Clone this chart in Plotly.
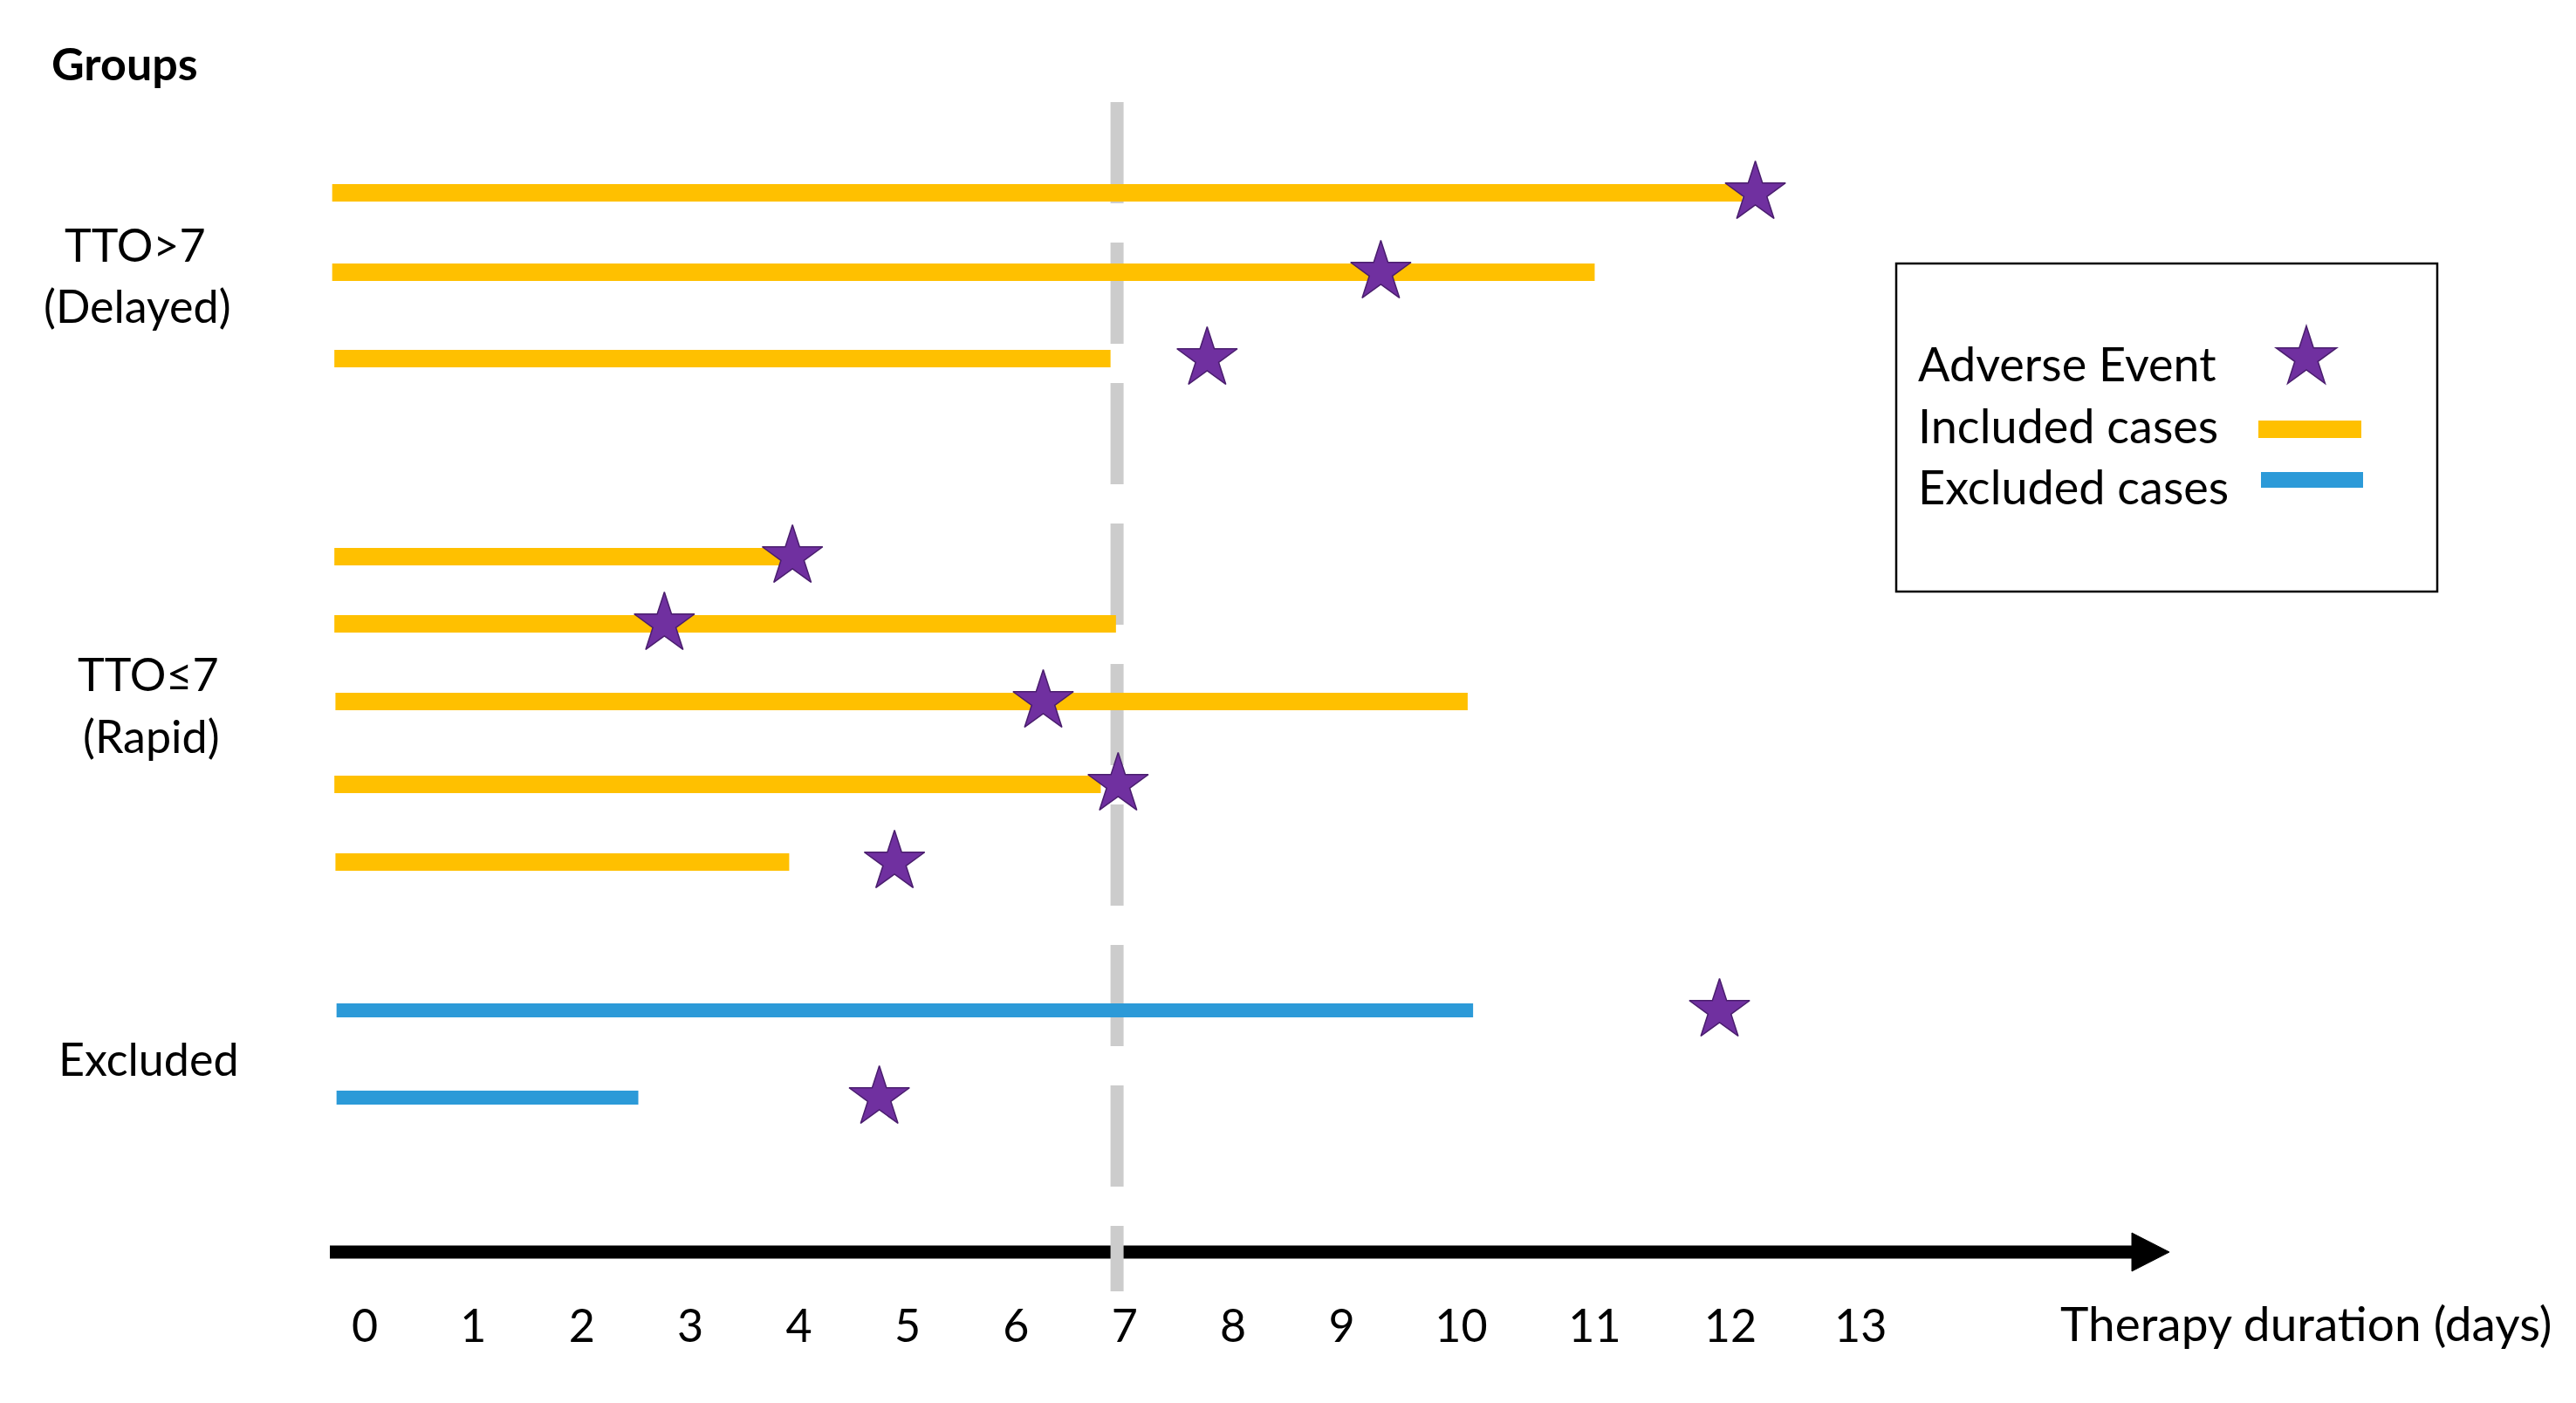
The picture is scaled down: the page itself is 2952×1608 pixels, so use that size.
import math
import plotly.graph_objects as go

# 데이터 (x 단위 = 일, 그림에서 읽은 값)
case_group = ["TTO>7", "TTO>7", "TTO>7",
              "TTO≤7", "TTO≤7", "TTO≤7", "TTO≤7", "TTO≤7",
              "Excluded", "Excluded"]
therapy_start = [-0.3, -0.3, -0.28, -0.28, -0.28, -0.27, -0.28, -0.27, -0.26, -0.26]
therapy_end = [12.69, 11.33, 6.87, 3.91, 6.92, 10.16, 6.78, 3.91, 10.21, 2.52]
event_day = [12.81, 9.36, 7.76, 3.94, 2.76, 6.25, 6.94, 4.88, 12.48, 4.74]

tick_pos = [0, 1, 2, 3, 4, 5, 6, 7, 8, 9, 10.1, 11.33, 12.58, 13.78]
tick_labels = ["0", "1", "2", "3", "4", "5", "6", "7", "8", "9", "10", "11", "12", "13"]

# 레이아웃 (화면 픽셀 기준)
W, H = 2952, 1608
OFF = 8                              # 페이지 body 여백 보정
X0_PX, DAY_PX = 418, 124.4           # 0일 위치, 1일당 픽셀
row_y = [221, 312, 411, 638, 715, 804, 899, 988, 1158, 1258]
FONT = "Lato"
YELLOW = "#FFC000"
BLUE = "#2C9AD8"
PURPLE = "#7030A0"
EDGE = "#4A1E6E"


def px(x):
    return (x - OFF) / W


def day(xpx):
    return (xpx - X0_PX) / DAY_PX


fig = go.Figure()

# 막대 (포함/제외 케이스)
for grp_ok, color, width in [(True, YELLOW, 20), (False, BLUE, 16)]:
    xs, ys = [], []
    for g, s, e, y in zip(case_group, therapy_start, therapy_end, row_y):
        if (g != "Excluded") == grp_ok:
            xs += [s, e, None]
            ys += [y, y, None]
    fig.add_trace(go.Scatter(x=xs, y=ys, mode="lines",
                             line=dict(color=color, width=width),
                             hoverinfo="skip", showlegend=False))

# 이상반응 별표
fig.add_trace(go.Scatter(x=event_day, y=row_y, mode="markers",
                         marker=dict(symbol="star", size=52, color=PURPLE,
                                     line=dict(color=EDGE, width=1.5)),
                         showlegend=False))

# 화살표 축
fig.add_shape(type="line", xref="x", yref="y", x0=day(378), x1=day(2450),
              y0=1435, y1=1435, line=dict(color="black", width=15), layer="below")
fig.add_shape(type="path", xref="x", yref="y",
              path=f"M {day(2443)},1413 L {day(2486)},1435 L {day(2443)},1457 Z",
              fillcolor="black", line=dict(color="black", width=1), layer="below")

# 7일 점선
fig.add_shape(type="line", xref="x", yref="y", x0=6.93, x1=6.93, y0=117, y1=1480,
              line=dict(color="#CCCCCC", width=15, dash="116px,45px"), layer="below")

# 그룹 라벨
labels = [("<b>Groups</b>", 143, 72), ("TTO>7", 155, 280), ("(Delayed)", 157, 350),
          ("TTO≤7", 170, 772), ("(Rapid)", 173, 843), ("Excluded", 170, 1213)]
for txt, x, y in labels:
    fig.add_annotation(text=txt, xref="paper", yref="y", x=px(x), y=y,
                       xanchor="center", yanchor="middle", showarrow=False,
                       font=dict(family=FONT, size=52, color="black"))

fig.add_annotation(text="Therapy duration (days)", xref="paper", yref="y",
                   x=px(2926), y=1516, xanchor="right", yanchor="middle",
                   showarrow=False, font=dict(family=FONT, size=55, color="black"))

# 범례 박스
fig.add_shape(type="rect", xref="paper", yref="y", x0=px(2173), x1=px(2793),
              y0=302, y1=678, line=dict(color="black", width=2.5))
for txt, y in [("Adverse Event", 416), ("Included cases", 487), ("Excluded cases", 557)]:
    fig.add_annotation(text=txt, xref="paper", yref="y", x=px(2196), y=y,
                       xanchor="left", yanchor="middle", showarrow=False,
                       font=dict(family=FONT, size=54, color="black"))
fig.add_shape(type="line", xref="paper", yref="y", x0=px(2588), x1=px(2706),
              y0=492, y1=492, line=dict(color=YELLOW, width=20))
fig.add_shape(type="line", xref="paper", yref="y", x0=px(2591), x1=px(2708),
              y0=550, y1=550, line=dict(color=BLUE, width=18))
# 범례 별 (픽셀 경로)
R = 36.5
pts = []
for k in range(10):
    a = math.radians(90 + 36 * k)
    r = R if k % 2 == 0 else R * 0.382
    pts.append(f"{r * math.cos(a):.2f},{r * math.sin(a):.2f}")
fig.add_shape(type="path", xref="paper", yref="y", xsizemode="pixel", ysizemode="pixel",
              xanchor=px(2643), yanchor=410, path="M " + " L ".join(pts) + " Z",
              fillcolor=PURPLE, line=dict(color=EDGE, width=1.5))

fig.update_xaxes(range=[day(OFF), day(W + OFF)], tickvals=tick_pos, ticktext=tick_labels,
                 anchor="free", position=1 - (1435 - OFF) / H,
                 showgrid=False, zeroline=False, showline=False,
                 ticks="outside", ticklen=40, tickcolor="rgba(0,0,0,0)",
                 tickfont=dict(family=FONT, size=52, color="black"))
fig.update_yaxes(range=[H + OFF, OFF], visible=False)

fig.update_layout(width=W, height=H, margin=dict(l=0, r=0, t=0, b=0),
                  plot_bgcolor="white", paper_bgcolor="white", showlegend=False)

fig.write_html("out.html")
